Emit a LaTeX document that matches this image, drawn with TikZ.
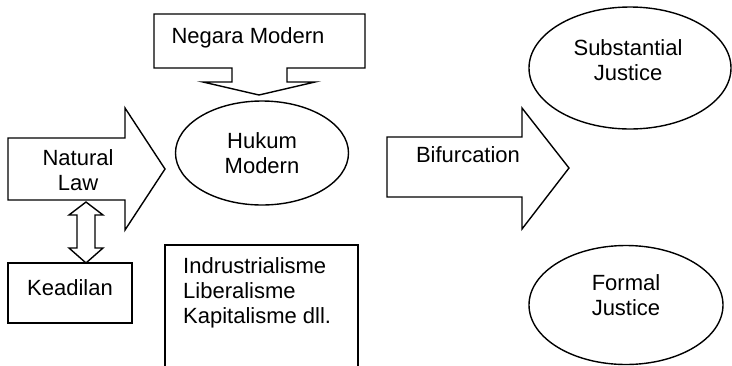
\documentclass[tikz,border=0pt]{standalone}
\usepackage{fontspec}
\setmainfont{Liberation Sans}
\usetikzlibrary{shapes.geometric}
\begin{document}
\begin{tikzpicture}[x=1pt,y=-1pt,
  outline/.style={draw=black,line width=1.4pt,line join=miter},
  lbl/.style={font=\fontsize{22}{25}\selectfont,align=center,inner sep=0pt},
  oval/.style={outline,ellipse,inner sep=0pt}]
\useasboundingbox (0,0) rectangle (732,365);

% block arrow: Natural Law
\draw[outline] (8,138) coordinate (nlA) -- (125,138) -- (125,108) -- (165,169) coordinate (nlTip)
  -- (125,230) -- (125,200) -- (8,200) -- cycle;
\node[lbl] (natlaw) at (78,170) {Natural\\Law};

% double-headed block arrow between Natural Law and Keadilan
\draw[outline] (86,202) coordinate (dTop) -- (103,215) -- (95,215) -- (95,248) -- (103,248)
  -- (86,263) coordinate (dBot) -- (69,248) -- (77,248) -- (77,215) -- (69,215) -- cycle;

% Keadilan box
\node[outline,minimum width=124pt,minimum height=60pt,inner sep=0pt] (keadilan) at (70,293) {};
\node[lbl] (keadilanTxt) at (70,288) {Keadilan};

% callout arrow: Negara Modern
\draw[outline] (154,14) -- (365,14) -- (365,68) -- (287,68) -- (287,82) -- (315,82)
  -- (259,95) coordinate (ngTip) -- (203,82) -- (232,82) -- (232,68) -- (154,68) -- cycle;
\node[lbl] (negara) at (248,38) {Negara Modern};

% Hukum Modern
\node[oval,minimum width=173pt,minimum height=104pt] (hukum) at (262,153) {};
\node[lbl] (hukumTxt) at (262,153) {Hukum\\Modern};

% influences box (bottom edge runs past the page)
\node[outline,minimum width=193pt,minimum height=125pt,inner sep=0pt] (infl) at (261.5,307.5) {};
\node[lbl,align=left,anchor=west] (inflTxt) at (183,293)
  {Indrustrialisme\\Liberalisme\\Kapitalisme dll.};

% block arrow: Bifurcation
\draw[outline] (387,137) -- (522,137) -- (522,108) -- (569,168) coordinate (bfTip)
  -- (522,229) -- (522,197) -- (387,197) -- cycle;
\node[lbl] (bifur) at (468,155) {Bifurcation};

% outcomes
\node[oval,minimum width=202pt,minimum height=122pt] (subst) at (630,68) {};
\node[lbl] (substTxt) at (628,60) {Substantial\\Justice};
\node[oval,minimum width=194pt,minimum height=119pt] (formal) at (626,305) {};
\node[lbl] (formalTxt) at (626,295) {Formal\\Justice};
\end{tikzpicture}
\end{document}
